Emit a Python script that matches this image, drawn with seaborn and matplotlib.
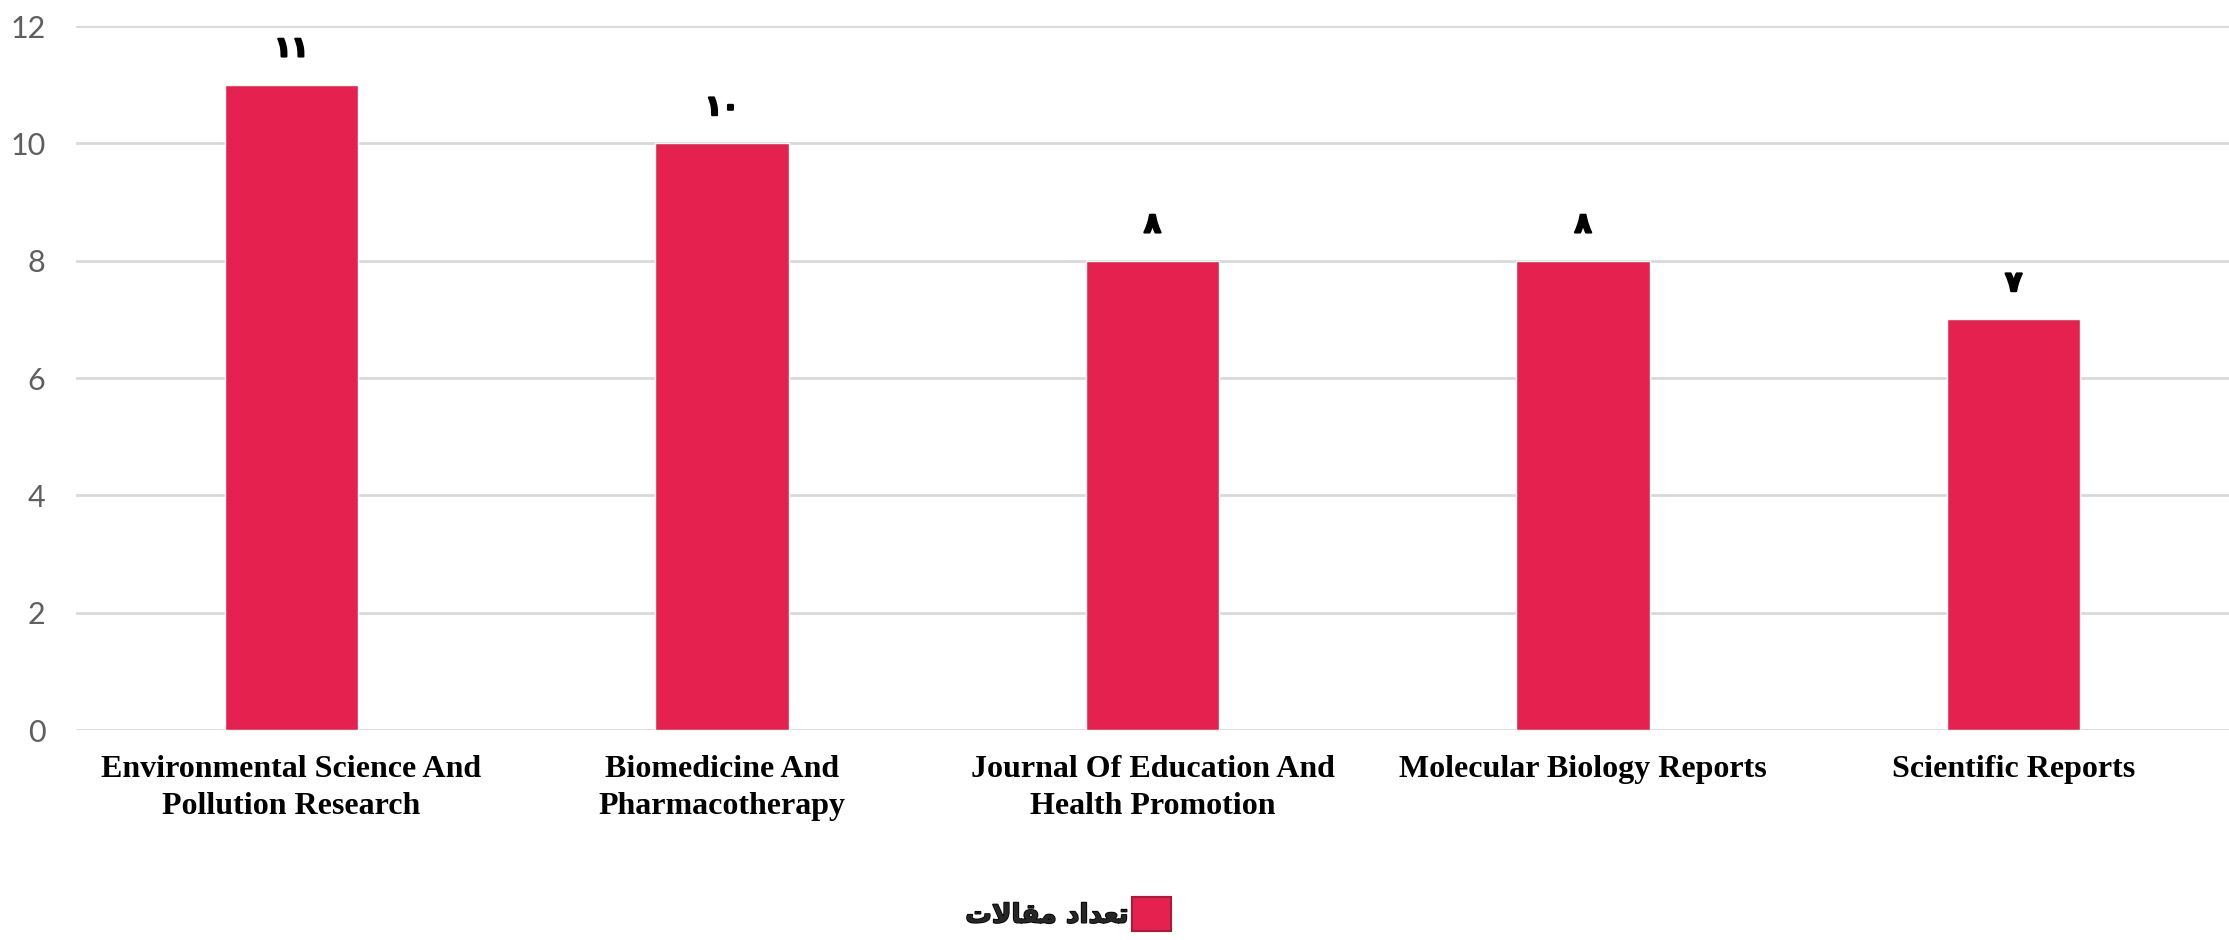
import matplotlib
matplotlib.use("Agg")
import matplotlib.pyplot as plt
import matplotlib.patheffects as pe
import pandas as pd
import seaborn as sns
from matplotlib.patches import Patch

journals = [
    "Environmental Science And\nPollution Research",
    "Biomedicine And\nPharmacotherapy",
    "Journal Of Education And\nHealth Promotion",
    "Molecular Biology Reports",
    "Scientific Reports",
]
article_counts = [11, 10, 8, 8, 7]
y_ticks = [0, 2, 4, 6, 8, 10, 12]
# "تعداد مقالات" in presentation forms, visual (left-to-right) order
series_label = "\ufe95\ufefb\ufe8e\ufed8\ufee3 \ufea9\ufe8d\ufeaa\ufecc\ufe97"

BAR_COLOR = "#E5224F"
PERSIAN_DIGITS = str.maketrans("0123456789", "۰۱۲۳۴۵۶۷۸۹")
HEAVY = [pe.withStroke(linewidth=1.6, foreground="black")]

sns.set_style("white")

df = pd.DataFrame({"journal": journals, "count": article_counts})

fig = plt.figure(figsize=(22.29, 9.4), dpi=100)
ax = fig.add_axes([76 / 2229, 210 / 940, 2153 / 2229, 704 / 940])
sns.barplot(data=df, x="journal", y="count", color=BAR_COLOR, width=0.31,
            saturation=1, ax=ax)

ax.set_ylim(0, 12)
ax.set_xlim(-0.5, 4.5)
ax.set_yticks(y_ticks)
ax.yaxis.grid(True, color="#d9d9d9", linewidth=2)
ax.set_axisbelow(True)
for spine in ax.spines.values():
    spine.set_visible(False)
ax.set_xlabel("")
ax.set_ylabel("")
ax.tick_params(axis="y", length=0, pad=22, labelcolor="#5f5f5f", labelsize=22)
ax.tick_params(axis="x", length=0, pad=18, labelcolor="black")
for lbl in ax.get_yticklabels():
    lbl.set_fontfamily("Lato")
for lbl in ax.get_xticklabels():
    lbl.set_fontfamily("Liberation Serif")
    lbl.set_fontweight("bold")
    lbl.set_fontsize(23)
    lbl.set_linespacing(1.35)

texts = ax.bar_label(ax.containers[0],
                     labels=[str(v).translate(PERSIAN_DIGITS) for v in article_counts],
                     padding=16, fontsize=20, fontweight="bold",
                     fontfamily="DejaVu Sans", color="black")
for t in texts:
    t.set_path_effects(HEAVY)

handle = Patch(facecolor=BAR_COLOR, edgecolor="#B0173A", linewidth=1.5)
leg = fig.legend([handle], [series_label], loc="center", bbox_to_anchor=(1068 / 2229, 1 - 914 / 940),
                 frameon=False, markerfirst=False, handlelength=1.45, handleheight=1.6,
                 handletextpad=0.15, prop={"family": "DejaVu Sans", "weight": "bold", "size": 19})
for t in leg.get_texts():
    t.set_path_effects([pe.withStroke(linewidth=1.2, foreground="black")])

fig.savefig("out.png", dpi=100)
